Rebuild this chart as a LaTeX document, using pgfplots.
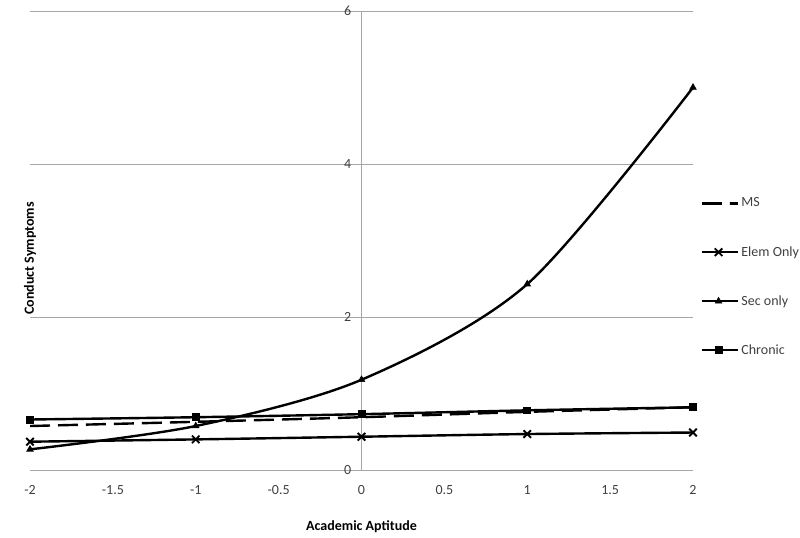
\documentclass[border=0pt]{standalone}
\usepackage{pgfplots}
\pgfplotsset{compat=1.18}
\usepackage{fontspec}
\setmainfont{Carlito}
\definecolor{tickgray}{HTML}{404040}
\definecolor{gridgray}{HTML}{A6A6A6}
\begin{document}
\begin{tikzpicture}
\useasboundingbox (-22.5pt,-50.25pt) rectangle (577.5pt,352.5pt);
\begin{axis}[
  scale only axis,
  width=497.25pt, height=344.25pt,
  xmin=-2, xmax=2, ymin=0, ymax=6,
  axis x line=bottom,
  axis y line=center,
  axis line style={draw=gridgray, line width=0.75pt, -},
  hide obscured x ticks=false,
  hide obscured y ticks=false,
  xtick={-2,-1.5,-1,-0.5,0,0.5,1,1.5,2},
  xticklabels={-2,-1.5,-1,-0.5,0,0.5,1,1.5,2},
  ytick={0,2,4,6},
  yticklabels={0,2,4,6},
  ymajorgrids,
  major grid style={draw=gridgray, line width=0.75pt},
  xtick style={draw=none},
  ytick style={draw=none},
  tick label style={font=\fontsize{10.5}{12}\selectfont, text=tickgray},
  xticklabel style={yshift=-6pt},
  yticklabel style={xshift=-2pt},
  xlabel={\textbf{Academic Aptitude}},
  ylabel={\textbf{Conduct Symptoms}},
  every axis x label/.style={at={(rel axis cs:0.5,0)}, anchor=center, yshift=-42.75pt, font=\fontsize{10.5}{12}\selectfont},
  every axis y label/.style={at={(rel axis cs:0,0.5)}, anchor=center, rotate=90, xshift=-13.5pt, font=\fontsize{10.5}{12}\selectfont},
  legend style={at={(rel axis cs:1.0106,0.4205)}, anchor=west, draw=none, fill=none, inner sep=0pt,
    row sep=24pt, font=\fontsize{10.5}{12}\selectfont, text=tickgray, cells={anchor=west}},
  legend image code/.code={\draw[mark repeat=2,mark phase=2,#1] plot coordinates {(0cm,0cm)(0.45cm,0cm)(0.95cm,0cm)};},
  every axis plot/.append style={line width=1.8pt, black, smooth},
]
\addplot[dash pattern=on 15pt off 6pt, no marks] coordinates {(-2,0.575) (-1,0.63) (0,0.69) (1,0.76) (2,0.82)};
\addlegendentry{MS}
\addplot[mark=x, mark size=4pt, mark options={line width=1.4pt}] coordinates {(-2,0.37) (-1,0.40) (0,0.435) (1,0.47) (2,0.49)};
\addlegendentry{Elem Only}
\addplot[mark=triangle*, mark size=2.8pt, mark options={line width=0.5pt}] coordinates {(-2,0.27) (-1,0.575) (0,1.18) (1,2.43) (2,5.0)};
\addlegendentry{Sec only}
\addplot[mark=square*, mark size=2.6pt, mark options={line width=0.5pt}] coordinates {(-2,0.66) (-1,0.69) (0,0.73) (1,0.78) (2,0.82)};
\addlegendentry{Chronic}
\end{axis}
\end{tikzpicture}
\end{document}
